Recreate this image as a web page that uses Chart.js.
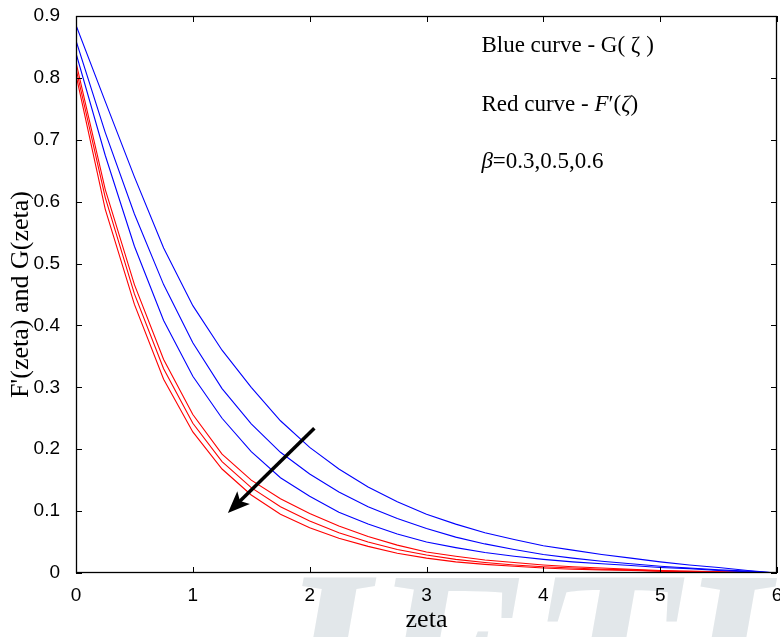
<!DOCTYPE html>
<html>
<head>
<meta charset="utf-8">
<script src="https://cdn.jsdelivr.net/npm/chart.js@4.4.1/dist/chart.umd.min.js"></script>
<style>
  html, body { margin: 0; padding: 0; background: #fff; }
  #wrap { width: 780px; height: 637px; }
</style>
</head>
<body>
<div id="wrap"><canvas id="profileChart" width="780" height="637"></canvas></div>
<script>
// zeta grid
var zeta = [0, 0.25, 0.5, 0.75, 1, 1.25, 1.5, 1.75, 2, 2.25, 2.5, 2.75, 3,
            3.25, 3.5, 3.75, 4, 4.25, 4.5, 4.75, 5, 5.25, 5.5, 5.75, 6];

// G(zeta), blue curves, beta = 0.3, 0.5, 0.6
var g1 = [0.885, 0.762, 0.640, 0.525, 0.432, 0.360, 0.300, 0.246, 0.203, 0.168, 0.139, 0.115, 0.095,
          0.079, 0.065, 0.054, 0.044, 0.037, 0.030, 0.024, 0.018, 0.013, 0.009, 0.004, 0.0];
var g2 = [0.860, 0.712, 0.580, 0.466, 0.372, 0.298, 0.241, 0.195, 0.160, 0.131, 0.107, 0.088, 0.072,
          0.058, 0.047, 0.038, 0.030, 0.024, 0.019, 0.015, 0.011, 0.008, 0.005, 0.003, 0.0];
var g3 = [0.840, 0.675, 0.528, 0.408, 0.318, 0.250, 0.196, 0.154, 0.124, 0.098, 0.079, 0.063, 0.050,
          0.041, 0.033, 0.027, 0.022, 0.018, 0.015, 0.012, 0.009, 0.007, 0.004, 0.002, 0.0];

// F'(zeta), red curves
var f1 = [0.825, 0.620, 0.466, 0.345, 0.256, 0.192, 0.150, 0.120, 0.096, 0.076, 0.059, 0.045, 0.034,
          0.027, 0.021, 0.017, 0.013, 0.010, 0.008, 0.006, 0.004, 0.003, 0.002, 0.001, 0.0];
var f2 = [0.815, 0.607, 0.451, 0.330, 0.242, 0.180, 0.138, 0.107, 0.084, 0.065, 0.050, 0.038, 0.029,
          0.022, 0.017, 0.013, 0.010, 0.008, 0.006, 0.005, 0.003, 0.002, 0.002, 0.001, 0.0];
var f3 = [0.805, 0.588, 0.434, 0.313, 0.228, 0.168, 0.126, 0.095, 0.073, 0.056, 0.043, 0.032, 0.024,
          0.018, 0.014, 0.011, 0.008, 0.006, 0.005, 0.004, 0.003, 0.002, 0.001, 0.001, 0.0];

var xTicks = [0, 1, 2, 3, 4, 5, 6];
var yTicks = [0, 0.1, 0.2, 0.3, 0.4, 0.5, 0.6, 0.7, 0.8, 0.9];

function pts(ys) {
  return zeta.map(function (z, i) { return { x: z, y: ys[i] }; });
}
function curve(ys, color) {
  return { data: pts(ys), borderColor: color, borderWidth: 1.1, pointRadius: 0, fill: false, tension: 0 };
}

// watermark + white axes background
var backdrop = {
  id: 'backdrop',
  beforeDraw: function (chart) {
    var ctx = chart.ctx, a = chart.chartArea;
    ctx.save();
    ctx.fillStyle = '#fff';
    ctx.fillRect(0, 0, chart.width, chart.height);
    ctx.fillStyle = '#e2e7ea';
    ctx.font = 'italic bold 240px "Liberation Serif"';
    ctx.textBaseline = 'alphabetic';
    ctx.fillText('JETIR', 250, 735);
    ctx.fillStyle = '#fff';
    ctx.fillRect(a.left, a.top, a.right - a.left, a.bottom - a.top);
    ctx.restore();
  }
};

// box, inward ticks, notes and arrow
var decor = {
  id: 'decor',
  afterDraw: function (chart) {
    var ctx = chart.ctx, a = chart.chartArea;
    var xs = chart.scales.x, ys = chart.scales.y;
    ctx.save();
    ctx.strokeStyle = '#000';
    ctx.lineWidth = 1;
    xTicks.forEach(function (t) {
      var px = Math.round(xs.getPixelForValue(t)) + 0.5;
      ctx.beginPath();
      ctx.moveTo(px, a.bottom); ctx.lineTo(px, a.bottom - 6);
      ctx.moveTo(px, a.top); ctx.lineTo(px, a.top + 6);
      ctx.stroke();
    });
    yTicks.forEach(function (t) {
      var py = Math.round(ys.getPixelForValue(t)) + 0.5;
      ctx.beginPath();
      ctx.moveTo(a.left, py); ctx.lineTo(a.left + 6, py);
      ctx.moveTo(a.right, py); ctx.lineTo(a.right - 6, py);
      ctx.stroke();
    });
    ctx.lineWidth = 1.3;
    ctx.strokeRect(Math.round(a.left) + 0.5, Math.round(a.top) + 0.5,
                   Math.round(a.right - a.left) - 1, Math.round(a.bottom - a.top) - 1);

    // notes
    var nx = xs.getPixelForValue(3.47);
    var rm = '23px "Liberation Serif"', it = 'italic 23px "Liberation Serif"';
    ctx.fillStyle = '#000';
    ctx.textBaseline = 'alphabetic';
    rich(ctx, [['Blue curve - G( ', rm], ['\u03B6', rm], [' )', rm]], nx, ys.getPixelForValue(0.842));
    rich(ctx, [['Red curve - ', rm], ['F', it], ['\u2032', rm], ['(', rm], ['\u03B6', it], [')', rm]], nx, ys.getPixelForValue(0.746));
    rich(ctx, [['\u03B2', it], ['=0.3,0.5,0.6', rm]], nx, ys.getPixelForValue(0.654));

    // arrow (increasing beta)
    var x0 = xs.getPixelForValue(2.04), y0 = ys.getPixelForValue(0.234);
    var x1 = xs.getPixelForValue(1.30), y1 = ys.getPixelForValue(0.097);
    var ang = Math.atan2(y1 - y0, x1 - x0), hl = 22, hw = 9;
    var bx = x1 - hl * Math.cos(ang), by = y1 - hl * Math.sin(ang);
    ctx.lineWidth = 3.5;
    ctx.lineCap = 'butt';
    ctx.beginPath();
    ctx.moveTo(x0, y0); ctx.lineTo(bx + 6 * Math.cos(ang), by + 6 * Math.sin(ang));
    ctx.stroke();
    ctx.beginPath();
    ctx.moveTo(x1, y1);
    ctx.lineTo(bx + hw * Math.sin(ang), by - hw * Math.cos(ang));
    ctx.lineTo(bx + 5 * Math.cos(ang), by + 5 * Math.sin(ang));
    ctx.lineTo(bx - hw * Math.sin(ang), by + hw * Math.cos(ang));
    ctx.closePath();
    ctx.fill();
    ctx.restore();
  }
};

function rich(ctx, parts, x, y) {
  parts.forEach(function (p) {
    ctx.font = p[1];
    ctx.fillText(p[0], x, y);
    x += ctx.measureText(p[0]).width;
  });
}

function noPad(s) {
  s.paddingLeft = 0; s.paddingRight = 0; s.paddingTop = 0; s.paddingBottom = 0;
}

new Chart(document.getElementById('profileChart'), {
  type: 'line',
  data: {
    datasets: [
      curve(g1, '#0000ff'), curve(g2, '#0000ff'), curve(g3, '#0000ff'),
      curve(f1, '#ff0000'), curve(f2, '#ff0000'), curve(f3, '#ff0000')
    ]
  },
  options: {
    responsive: false,
    animation: false,
    devicePixelRatio: 1,
    layout: { padding: { top: 16, right: 3, left: 0, bottom: 0 } },
    plugins: { legend: { display: false }, tooltip: { enabled: false } },
    scales: {
      x: {
        type: 'linear', min: 0, max: 6,
        grid: { display: false }, border: { display: false },
        afterBuildTicks: function (s) { s.ticks = xTicks.map(function (v) { return { value: v }; }); },
        afterFit: function (s) { s.height = 64; noPad(s); },
        ticks: { color: '#000', padding: 3, font: { family: '"Liberation Sans"', size: 19 }, maxRotation: 0 },
        title: { display: true, text: 'zeta', color: '#000', padding: { top: 0, bottom: 1 },
                 font: { family: '"Liberation Serif"', size: 26 } }
      },
      y: {
        min: 0, max: 0.9,
        grid: { display: false }, border: { display: false },
        afterBuildTicks: function (s) { s.ticks = yTicks.map(function (v) { return { value: v }; }); },
        afterFit: function (s) { s.width = 76; noPad(s); },
        ticks: { color: '#000', padding: 8, font: { family: '"Liberation Sans"', size: 19 },
                 callback: function (v) { return v === 0 ? '0' : v.toFixed(1); } },
        title: { display: true, text: "F'(zeta) and G(zeta)", color: '#000', padding: { top: 6, bottom: 0 },
                 font: { family: '"Liberation Serif"', size: 26 } }
      }
    }
  },
  plugins: [backdrop, decor]
});
</script>
</body>
</html>
